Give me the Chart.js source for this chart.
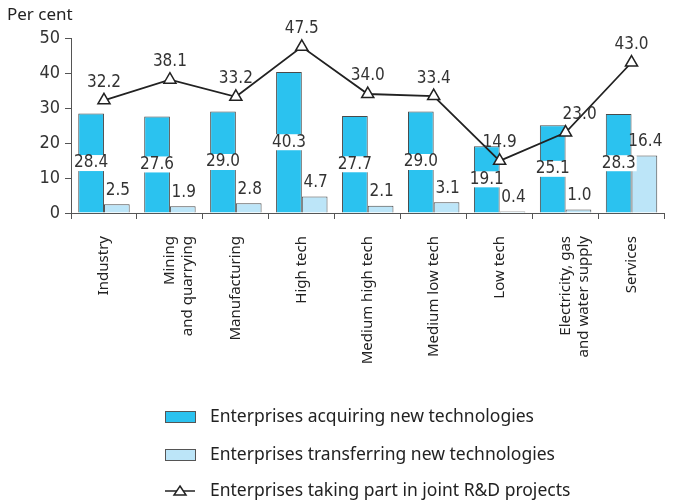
<!DOCTYPE html>
<html>
<head>
<meta charset="utf-8">
<script src="https://cdn.jsdelivr.net/npm/chart.js@4.4.1/dist/chart.umd.min.js"></script>
<style>
  html, body { margin: 0; padding: 0; background: #fff; }
  #wrap { width: 673px; height: 500px; }
</style>
</head>
<body>
<div id="wrap"><canvas id="rd"></canvas></div>
<script>
var categories = [
    'Industry', ['Mining', 'and quarrying'], 'Manufacturing', 'High tech',
    'Medium high tech', 'Medium low tech', 'Low tech',
    ['Electricity, gas', 'and water supply'], 'Services'
];
var acquiring = [28.4, 27.6, 29.0, 40.3, 27.7, 29.0, 19.1, 25.1, 28.3];
var transferring = [2.5, 1.9, 2.8, 4.7, 2.1, 3.1, 0.4, 1.0, 16.4];
var jointRD = [32.2, 38.1, 33.2, 47.5, 34.0, 33.4, 14.9, 23.0, 43.0];
var yTicks = [0, 10, 20, 30, 40, 50];

var numFont = "'Liberation Sans Narrow', 'DejaVu Sans Condensed', Arial, sans-serif";
var textFont = "'Noto Sans', 'Open Sans', sans-serif";

// value labels, "Per cent" and the stacked legend
var labelsPlugin = {
    id: 'labels',
    afterDatasetsDraw: function(chart) {
        var ctx = chart.ctx;
        ctx.save();
        ctx.font = '17px ' + numFont;
        ctx.textAlign = 'center';
        ctx.textBaseline = 'middle';
        ctx.fillStyle = '#333';

        chart.getDatasetMeta(0).data.forEach(function(bar, i) {
            var txt = acquiring[i].toFixed(1);
            var w = ctx.measureText(txt).width;
            var y = (bar.y + bar.base) / 2;
            ctx.fillStyle = '#fff';
            ctx.fillRect(bar.x - w / 2 - 1, y - 8, w + 2, 16);
            ctx.fillStyle = '#333';
            ctx.fillText(txt, bar.x, y);
        });
        chart.getDatasetMeta(1).data.forEach(function(bar, i) {
            ctx.fillText(transferring[i].toFixed(1), bar.x + 1, bar.y - 14);
        });
        chart.getDatasetMeta(2).data.forEach(function(pt, i) {
            var dx = i === 7 ? 14 : 0;
            ctx.fillText(jointRD[i].toFixed(1), pt.x + dx, pt.y - 18);
        });

        ctx.font = '17px ' + textFont;
        ctx.textAlign = 'left';
        ctx.fillStyle = '#222';
        ctx.fillText('Per cent', 7, 15);

        // legend
        ctx.font = '17.5px ' + textFont;
        var lx = 165, rows = [417, 455, 491];
        chart.data.datasets.forEach(function(ds, i) {
            var y = rows[i];
            if (ds.type === 'line') {
                ctx.strokeStyle = '#222';
                ctx.lineWidth = 1.5;
                ctx.beginPath();
                ctx.moveTo(lx, y);
                ctx.lineTo(lx + 30, y);
                ctx.stroke();
                ctx.beginPath();
                ctx.moveTo(lx + 15, y - 5);
                ctx.lineTo(lx + 21, y + 4);
                ctx.lineTo(lx + 9, y + 4);
                ctx.closePath();
                ctx.fillStyle = '#fff';
                ctx.fill();
                ctx.stroke();
            } else {
                ctx.fillStyle = ds.backgroundColor;
                ctx.fillRect(lx, y - 6, 30, 11);
                ctx.strokeStyle = '#555';
                ctx.lineWidth = 1;
                ctx.strokeRect(lx + 0.5, y - 5.5, 30, 11);
            }
            ctx.fillStyle = '#222';
            ctx.fillText(ds.label, 210, y);
        });
        ctx.restore();
    }
};

var rd = document.getElementById('rd').getContext('2d');
var rdChart = new Chart(rd, {
    data: {
        labels: categories,
        datasets: [{
            type: 'bar',
            label: 'Enterprises acquiring new technologies',
            data: acquiring,
            backgroundColor: '#2BC2EF',
            borderColor: '#4a4a4a',
            borderWidth: 1,
            categoryPercentage: 0.78,
            barPercentage: 1,
            order: 2
        }, {
            type: 'bar',
            label: 'Enterprises transferring new technologies',
            data: transferring,
            backgroundColor: '#BCE5F8',
            borderColor: '#4a4a4a',
            borderWidth: 1,
            categoryPercentage: 0.78,
            barPercentage: 1,
            order: 2
        }, {
            type: 'line',
            label: 'Enterprises taking part in joint R&D projects',
            data: jointRD,
            borderColor: '#222',
            borderWidth: 1.8,
            pointStyle: 'triangle',
            pointRadius: 7,
            pointBackgroundColor: '#fff',
            pointBorderColor: '#222',
            pointBorderWidth: 1.5,
            tension: 0,
            order: 1
        }]
    },
    options: {
        responsive: true,
        maintainAspectRatio: false,
        animation: false,
        layout: {
            padding: { left: 0, right: 1, top: 38, bottom: 0 }
        },
        plugins: {
            legend: { display: false },
            title: { display: false },
            tooltip: { enabled: false }
        },
        scales: {
            x: {
                offset: true,
                grid: {
                    display: true,
                    drawOnChartArea: false,
                    drawTicks: true,
                    tickLength: 6,
                    color: '#555'
                },
                border: { display: true, color: '#555' },
                ticks: {
                    maxRotation: 90,
                    minRotation: 90,
                    autoSkip: false,
                    padding: 17,
                    color: '#222',
                    font: { family: textFont, size: 15 }
                },
                afterFit: function(scale) { scale.height = 287; }
            },
            y: {
                min: 0,
                max: 50,
                afterBuildTicks: function(scale) {
                    scale.ticks = yTicks.map(function(v) { return { value: v }; });
                },
                grid: {
                    display: true,
                    drawOnChartArea: false,
                    drawTicks: true,
                    tickLength: 6,
                    color: '#555'
                },
                border: { display: true, color: '#555' },
                ticks: {
                    padding: 5,
                    color: '#333',
                    font: { family: numFont, size: 18 }
                },
                afterFit: function(scale) { scale.width = 71; }
            }
        }
    },
    plugins: [labelsPlugin]
});
</script>
</body>
</html>
